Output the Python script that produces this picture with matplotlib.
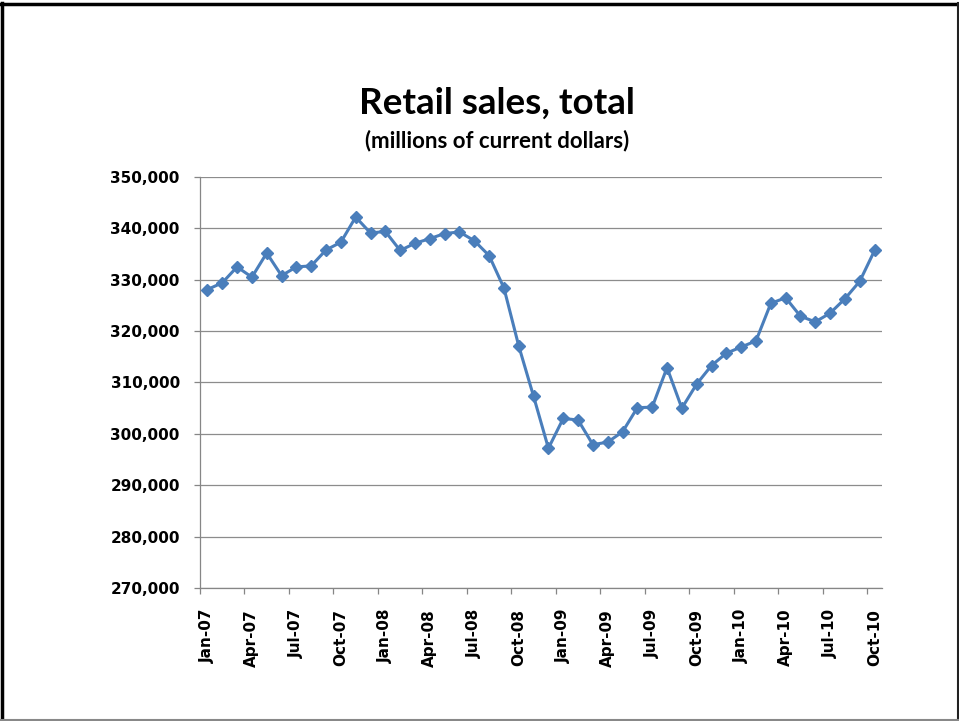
import matplotlib
matplotlib.use("Agg")
import matplotlib.pyplot as plt
from matplotlib.ticker import FuncFormatter, FixedLocator
from matplotlib.lines import Line2D

# ---- data ----
months = ["Jan", "Feb", "Mar", "Apr", "May", "Jun", "Jul", "Aug", "Sep", "Oct", "Nov", "Dec"]
years = ["07", "08", "09", "10"]
dates = [f"{m}-{y}" for y in years for m in months][:46]

sales = [
    328100, 329400, 332500, 330500, 335200, 330800, 332500, 332700, 335800, 337300, 342200, 339100,  # 2007
    339400, 335700, 337100, 338000, 339000, 339300, 337600, 334700, 328400, 317100, 307300, 297200,  # 2008
    303000, 302700, 297900, 298400, 300400, 305100, 305200, 312900, 305000, 309700, 313300, 315700,  # 2009
    316900, 318100, 325400, 326500, 322900, 321800, 323500, 326300, 329700, 335700,                  # 2010
]
tick_labels = dates[::3]
y_ticks = [270000, 280000, 290000, 300000, 310000, 320000, 330000, 340000, 350000]

title = "Retail sales, total"
subtitle = "(millions of current dollars)"

plt.rcParams['font.family'] = ['Lato', 'DejaVu Sans']
tick_font = dict(family="DejaVu Sans", weight="bold", size=11)

W, H = 959, 721
fig = plt.figure(figsize=(W / 100, H / 100), dpi=100)
ax = fig.add_axes([200 / W, 1 - 588 / H, 682 / W, 411 / H])

x = list(range(len(sales)))
ax.plot(x, sales, color="#4A7EBB", lw=2.2, marker="D", markersize=6.3,
        markerfacecolor="#4A7EBB", markeredgecolor="#4A7EBB", zorder=3, clip_on=False)

ax.set_xlim(-0.5, len(sales) - 0.5)
ax.set_ylim(y_ticks[0], y_ticks[-1])

ax.set_yticks(y_ticks)
ax.set_yticklabels([f"{v:,.0f}" for v in y_ticks], fontdict=tick_font)
ax.grid(axis="y", color="#8C8C8C", lw=0.9)
ax.set_axisbelow(True)

ax.xaxis.set_major_locator(FixedLocator(list(range(0, len(sales), 3))))
ax.set_xticklabels(tick_labels, rotation=90, fontdict=tick_font)
ax.xaxis.set_minor_locator(FixedLocator([i - 0.5 for i in range(0, len(sales), 3)]))
ax.tick_params(axis="x", which="major", length=0, pad=15)
ax.tick_params(axis="x", which="minor", length=4.5, color="#868686", width=0.9, direction="out")
ax.tick_params(axis="y", length=4.5, color="#868686", width=0.9, direction="out", pad=10)

for s in ["top", "right"]:
    ax.spines[s].set_visible(False)
for s in ["left", "bottom"]:
    ax.spines[s].set_color("#868686")
    ax.spines[s].set_linewidth(0.9)

fig.text(497 / W, 1 - 103 / H, title, ha="center", va="center", fontsize=26.5, fontweight="bold")
fig.text(497 / W, 1 - 141 / H, subtitle, ha="center", va="center", fontsize=16, fontweight="bold")

# slide border
fig.add_artist(Line2D([2 / W, 2 / W], [0, 1 - 3 / H], transform=fig.transFigure, color="black", lw=2.5))
fig.add_artist(Line2D([1 / W, 1], [1 - 4 / H, 1 - 4 / H], transform=fig.transFigure, color="black", lw=2.5))
fig.add_artist(Line2D([957.5 / W, 957.5 / W], [0, 1 - 3 / H], transform=fig.transFigure, color="#222222", lw=1.5))
fig.add_artist(Line2D([0, 1], [1.5 / H, 1.5 / H], transform=fig.transFigure, color="#888888", lw=1.5))

fig.savefig("out.png", dpi=100)
